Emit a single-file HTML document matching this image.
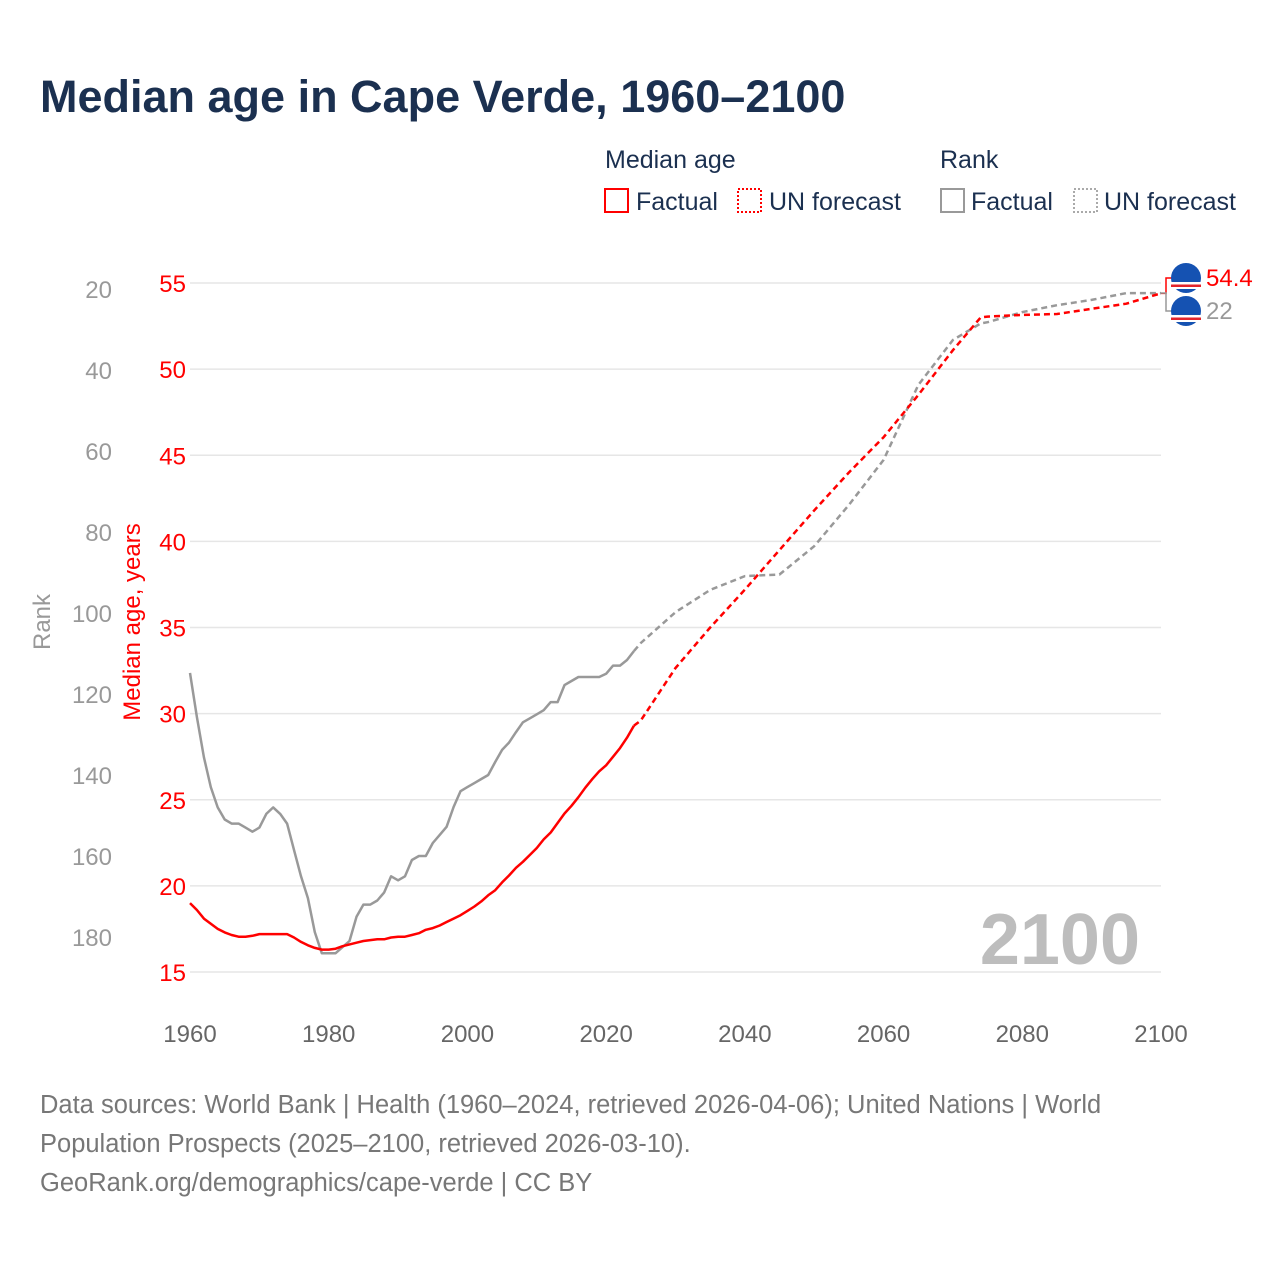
<!DOCTYPE html>
<html><head><meta charset="utf-8"><style>
body{margin:0;background:#fff;font-family:"Liberation Sans",sans-serif;}
svg text{font-family:"Liberation Sans",sans-serif;}
</style></head><body>
<svg id="chart" width="1280" height="1280" viewBox="0 0 1280 1280" xmlns="http://www.w3.org/2000/svg">
<rect width="1280" height="1280" fill="#fff"/>
<text x="40" y="112" font-size="45" font-weight="bold" fill="#1b3050">Median age in Cape Verde, 1960–2100</text>
<g font-size="25" fill="#1b3050">
<text x="605" y="168">Median age</text>
<text x="940" y="168">Rank</text>
<rect x="605" y="189" width="23" height="23" fill="none" stroke="#f00" stroke-width="2"/>
<text x="636" y="210">Factual</text>
<rect x="738" y="189" width="23" height="23" fill="none" stroke="#f00" stroke-width="2" stroke-dasharray="2,2"/>
<text x="769" y="210">UN forecast</text>
<rect x="941" y="189" width="23" height="23" fill="none" stroke="#999" stroke-width="2"/>
<text x="971" y="210">Factual</text>
<rect x="1074" y="189" width="23" height="23" fill="none" stroke="#aaa" stroke-width="2" stroke-dasharray="2,2"/>
<text x="1104" y="210">UN forecast</text>
</g>
<g id="grid"></g>
<text x="1140" y="964" font-size="72" font-weight="bold" fill="#bdbdbd" text-anchor="end">2100</text>
<g id="marks"></g>
<text transform="translate(50,622) rotate(-90)" font-size="24" fill="#999" text-anchor="middle">Rank</text>
<text transform="translate(140,622) rotate(-90)" font-size="24" fill="#f00" text-anchor="middle">Median age, years</text>
<g font-size="25.5" fill="#777">
<text x="40" y="1113">Data sources: World Bank | Health (1960–2024, retrieved 2026-04-06); United Nations | World</text>
<text x="40" y="1152">Population Prospects (2025–2100, retrieved 2026-03-10).</text>
<text x="40" y="1191">GeoRank.org/demographics/cape-verde | CC BY</text>
</g>
</svg>
<script>
const factYears = [1960,1961,1962,1963,1964,1965,1966,1967,1968,1969,1970,1971,1972,1973,1974,1975,1976,1977,1978,1979,1980,1981,1982,1983,1984,1985,1986,1987,1988,1989,1990,1991,1992,1993,1994,1995,1996,1997,1998,1999,2000,2001,2002,2003,2004,2005,2006,2007,2008,2009,2010,2011,2012,2013,2014,2015,2016,2017,2018,2019,2020,2021,2022,2023,2024];
const ageFact = [19.0,18.6,18.1,17.8,17.5,17.3,17.15,17.05,17.05,17.1,17.2,17.2,17.2,17.2,17.2,17.0,16.75,16.55,16.4,16.3,16.3,16.35,16.5,16.6,16.7,16.8,16.85,16.9,16.9,17.0,17.05,17.05,17.15,17.25,17.45,17.55,17.7,17.9,18.1,18.3,18.55,18.8,19.1,19.45,19.75,20.2,20.6,21.05,21.4,21.8,22.2,22.7,23.1,23.65,24.2,24.65,25.15,25.7,26.2,26.65,27.0,27.5,28.0,28.6,29.3];
const rankFact = [114.8,125.7,135.6,143,148,151,152,152,153,154,153,149.6,148,149.6,152,158.5,165,170.4,178.8,184,184,184,182.5,181,175,172,172,171,169,165,166,165,161,160,160,156.8,154.8,152.8,147.9,144,143,142,141,140,136.8,133.8,132,129.4,127,126,125,124,122,122,117.8,116.8,115.8,115.8,115.8,115.8,115,113,113,111.6,109.4];
const foreYears = [2024,2025,2030,2035,2040,2045,2050,2055,2060,2065,2070,2074,2075,2080,2085,2090,2095,2100];
const ageFore = [29.3,29.6,32.65,35.0,37.2,39.5,41.8,44.0,46.05,48.5,51.1,53.0,53.05,53.15,53.2,53.5,53.8,54.4];
const rankFore = [109.4,107.4,99.8,94.3,90.9,90.5,83.5,73.3,62.2,43.7,32.6,28.5,28.2,25.7,24,22.7,21,21];
const ageTicks = [15,20,25,30,35,40,45,50,55];
const rankTicks = [20,40,60,80,100,120,140,160,180];
const xTicks = [1960,1980,2000,2020,2040,2060,2080,2100];

const NS="http://www.w3.org/2000/svg";
const X = y => 190 + (y-1960)*(971/140);
const YA = v => 972 - (v-15)*(689/40);
const YR = r => 289 + (r-20)*(648/160);
function mk(tag, attrs, parent){const e=document.createElementNS(NS,tag);for(const k in attrs)e.setAttribute(k,attrs[k]);parent.appendChild(e);return e;}
const grid=document.getElementById('grid'), marks=document.getElementById('marks');
ageTicks.forEach(t=>{
  const l=mk('line',{x1:190,x2:1161,y1:YA(t),y2:YA(t),stroke:'#e6e6e6','stroke-width':1.5},grid);
  
  
  const tx=mk('text',{x:186,y:YA(t)+9,'font-size':24,fill:'#f00','text-anchor':'end'},grid);
  tx.textContent=t;
  
  
});
rankTicks.forEach(t=>{
  const tx=mk('text',{x:112,y:YR(t)+9,'font-size':24,fill:'#999','text-anchor':'end'},grid);
  tx.textContent=t;
  
  
});
xTicks.forEach(t=>{
  const tx=mk('text',{x:X(t),y:1042,'font-size':24,fill:'#666','text-anchor':'middle'},grid);
  tx.textContent=t;
  
  
});
function line(years, vals, yf, color, dash, name){
  const d=years.map((y,i)=>(i?'L':'M')+X(y).toFixed(1)+','+yf(vals[i]).toFixed(1)).join('');
  const p=mk('path',{d:d,fill:'none',stroke:color,'stroke-width':2.5,'stroke-linejoin':'round'},marks);
  if(dash)p.setAttribute('stroke-dasharray',dash);
  
  
}
line(factYears,rankFact,YR,'#999',null,'rank-factual-line');
line(foreYears,rankFore,YR,'#999','6,4','rank-forecast-line');
line(factYears,ageFact,YA,'#f00',null,'age-factual-line');
line(foreYears,ageFore,YA,'#f00','6,4','age-forecast-line');
const ea=YA(ageFore[ageFore.length-1]), er=YR(rankFore[rankFore.length-1]);
const ex=X(2100);
const la=278, lr=311;
let c=mk('path',{d:`M${ex},${ea}L${ex+5},${ea}L${ex+5},${la}L${1172},${la}`,fill:'none',stroke:'#f00','stroke-width':1.5},marks);


c=mk('path',{d:`M${ex},${er}L${ex+5},${er}L${ex+5},${lr}L${1172},${lr}`,fill:'none',stroke:'#999','stroke-width':1.5},marks);


[[la,'#f00',ageFore[ageFore.length-1].toFixed(1),'age-end-label'],[lr,'#999','22','rank-end-label']].forEach(([cy,col,txt,nm])=>{
  const g=mk('g',{},marks);
  
  
  mk('circle',{cx:1186,cy:cy,r:15,fill:'#1552b2'},g);
  mk('rect',{x:1171,y:cy+4,width:30,height:2.5,fill:'#fff'},g);
  mk('rect',{x:1171,y:cy+6.5,width:30,height:2.5,fill:'#e3242b'},g);
  mk('rect',{x:1171,y:cy+9,width:30,height:2,fill:'#fff'},g);
  const t=mk('text',{x:1206,y:cy+8,'font-size':24,fill:col},marks);
  t.textContent=txt;
  
  
});
</script>
</body></html>
